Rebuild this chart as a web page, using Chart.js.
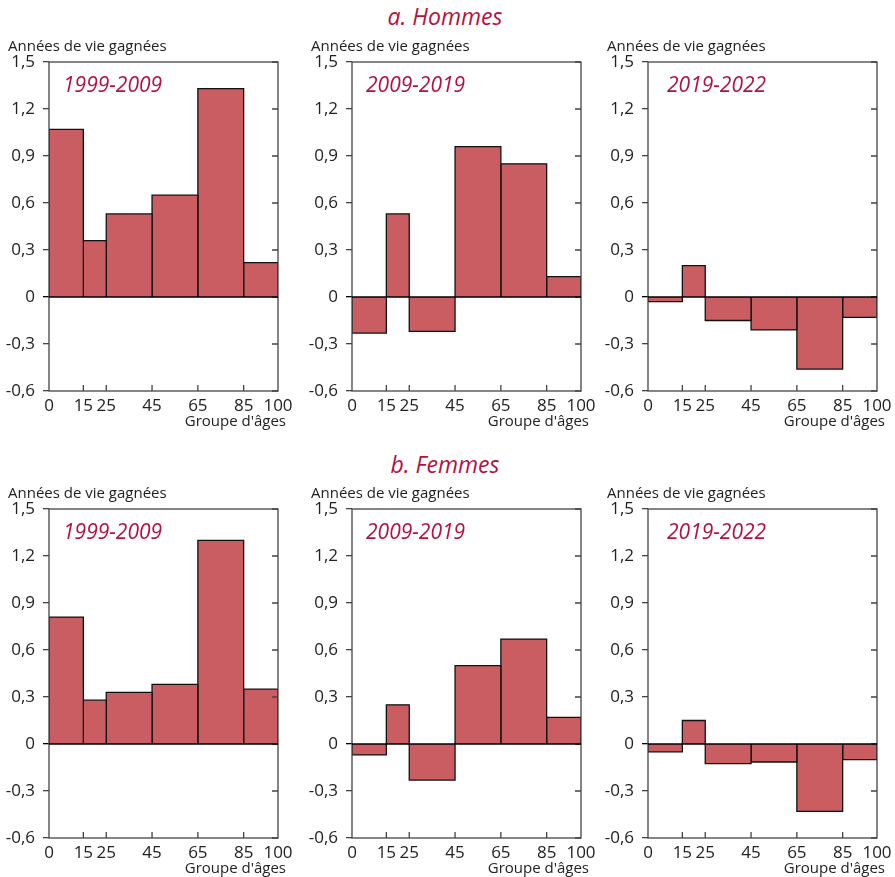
<!DOCTYPE html>
<html lang="fr">
<head>
<meta charset="utf-8">
<script src="https://cdn.jsdelivr.net/npm/chart.js@4.4.1/dist/chart.umd.min.js"></script>
<style>
    body { margin: 0; width: 895px; height: 877px; overflow: hidden; background: #fff; position: relative; font-family: "Open Sans", sans-serif; }
    .head { position: absolute; left: 0; width: 890px; text-align: center; font-style: italic; font-size: 23px; color: #b3123f; }
    canvas { position: absolute; }
</style>
</head>
<body>
<div class="head" style="top: 0px;">a. Hommes</div>
<div class="head" style="top: 448px;">b. Femmes</div>
<canvas id="c0" width="295" height="400" style="left:0px; top:35px;"></canvas>
<canvas id="c1" width="295" height="400" style="left:303px; top:35px;"></canvas>
<canvas id="c2" width="295" height="400" style="left:599px; top:35px;"></canvas>
<canvas id="c3" width="295" height="400" style="left:0px; top:482px;"></canvas>
<canvas id="c4" width="295" height="400" style="left:303px; top:482px;"></canvas>
<canvas id="c5" width="295" height="400" style="left:599px; top:482px;"></canvas>
<script>
const ageEdges = [0, 15, 25, 45, 65, 85, 100];
const yTicks = [-0.6, -0.3, 0, 0.3, 0.6, 0.9, 1.2, 1.5];
const periods = ["1999-2009", "2009-2019", "2019-2022"];

const hommes1999 = [1.07, 0.36, 0.53, 0.65, 1.33, 0.22];
const hommes2009 = [-0.23, 0.53, -0.22, 0.96, 0.85, 0.13];
const hommes2019 = [-0.03, 0.20, -0.15, -0.21, -0.46, -0.13];
const femmes1999 = [0.81, 0.28, 0.33, 0.38, 1.30, 0.35];
const femmes2009 = [-0.07, 0.25, -0.23, 0.50, 0.67, 0.17];
const femmes2019 = [-0.05, 0.15, -0.125, -0.115, -0.43, -0.10];

const panels = [hommes1999, hommes2009, hommes2019, femmes1999, femmes2009, femmes2019];
const labelShift = [14, 14, 19];

const font = "'Open Sans', sans-serif";
const red = "#b3123f";
const barFill = "#c95d61";
const frameColor = "#444";

const fmt = v => v === 0 ? "0" : v.toFixed(1).replace(".", ",");

const makeBars = values => values.map((v, i) => ({
    data: [
        { x: ageEdges[i], y: 0 },
        { x: ageEdges[i], y: v },
        { x: ageEdges[i + 1], y: v },
        { x: ageEdges[i + 1], y: 0 }
    ],
    fill: "origin",
    backgroundColor: barFill,
    borderColor: "#111",
    borderWidth: 1.3,
    borderJoinStyle: "miter",
    pointRadius: 0,
    tension: 0
}));

const framePlugin = {
    id: "frame",
    afterDatasetsDraw(chart) {
        const { ctx, chartArea: a, scales: { x, y } } = chart;
        ctx.save();
        ctx.lineWidth = 1.3;
        ctx.strokeStyle = frameColor;
        ctx.beginPath();
        ageEdges.slice(1, -1).forEach(e => {
            const px = x.getPixelForValue(e);
            ctx.moveTo(px, a.bottom);
            ctx.lineTo(px, a.bottom - 6);
        });
        yTicks.forEach(t => {
            const py = y.getPixelForValue(t);
            ctx.moveTo(a.right, py);
            ctx.lineTo(a.right - 6, py);
        });
        ctx.stroke();
        ctx.strokeRect(a.left, a.top, a.right - a.left, a.bottom - a.top);
        const y0 = y.getPixelForValue(0);
        ctx.strokeStyle = "#000";
        ctx.beginPath();
        ctx.moveTo(a.left, y0);
        ctx.lineTo(a.right, y0);
        ctx.stroke();
        ctx.restore();
    },
    afterDraw(chart) {
        const { ctx, chartArea: a } = chart;
        const col = chart.options.plugins.frame.col;
        ctx.save();
        ctx.fillStyle = "#222";
        ctx.textBaseline = "alphabetic";
        ctx.font = "15px " + font;
        ctx.textAlign = "left";
        ctx.fillText("Années de vie gagnées", a.left - 41, a.top - 11);
        ctx.textAlign = "right";
        ctx.fillText("Groupe d'âges", a.right + 8, a.bottom + 35);
        ctx.fillStyle = red;
        ctx.font = "italic 21px " + font;
        ctx.textAlign = "left";
        ctx.fillText(periods[col], a.left + labelShift[col], a.top + 30);
        ctx.restore();
    }
};

panels.forEach((values, k) => {
    const col = k % 3;
    new Chart(document.getElementById("c" + k), {
        type: "line",
        data: { datasets: makeBars(values) },
        options: {
            responsive: false,
            animation: false,
            layout: { padding: { top: 27, right: 17, bottom: 0, left: 0 } },
            plugins: {
                legend: { display: false },
                tooltip: { enabled: false },
                frame: { col: col }
            },
            scales: {
                x: {
                    type: "linear",
                    min: 0,
                    max: 100,
                    afterBuildTicks: s => { s.ticks = ageEdges.map(v => ({ value: v })); },
                    afterFit: s => { s.height = 44; },
                    grid: { display: false },
                    border: { display: false },
                    ticks: { color: "#222", font: { family: font, size: 17 }, padding: -3, maxRotation: 0, autoSkip: false }
                },
                y: {
                    min: -0.6,
                    max: 1.5,
                    afterBuildTicks: s => { s.ticks = yTicks.map(v => ({ value: v })); },
                    afterFit: s => { s.width = 49; },
                    grid: {
                        drawOnChartArea: false,
                        tickLength: 6,
                        lineWidth: 1.3,
                        tickColor: c => c.tick && c.tick.value === 0 ? "#000" : frameColor
                    },
                    border: { display: false },
                    ticks: { color: "#222", font: { family: font, size: 17 }, padding: 8, callback: v => fmt(v) }
                }
            }
        },
        plugins: [framePlugin]
    });
});
</script>
</body>
</html>
